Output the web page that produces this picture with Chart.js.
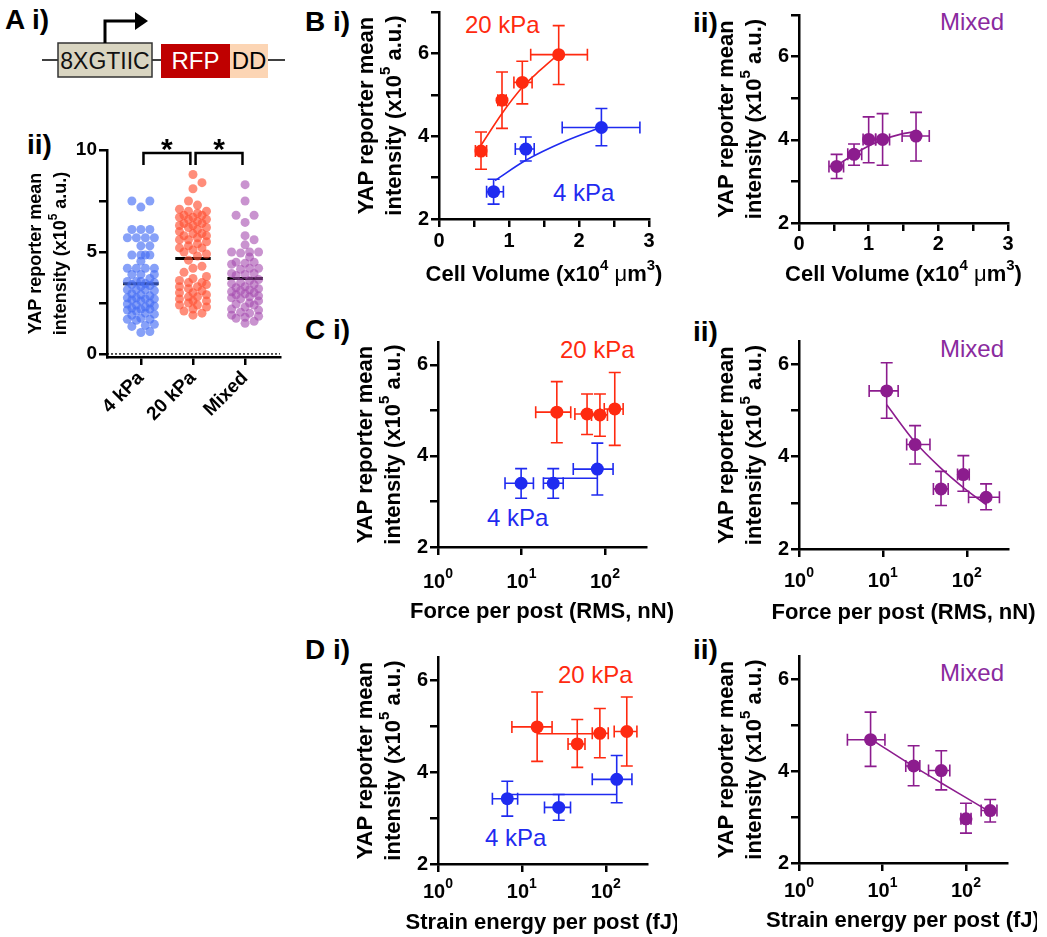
<!DOCTYPE html>
<html>
<head>
<meta charset="utf-8">
<title>YAP reporter intensity vs substrate, volume, force and strain energy</title>
<script src="https://cdn.jsdelivr.net/npm/chart.js@4.4.1/dist/chart.umd.min.js"></script>
<style>
  html, body { margin: 0; padding: 0; background: #fff; }
  body { position: relative; width: 1047px; height: 937px; overflow: hidden;
         font-family: 'Liberation Sans', Arial, Helvetica, sans-serif; }
  canvas { position: absolute; }
  .t { position: absolute; line-height: 1; white-space: nowrap; }
  .panel { font-size: 28px; font-weight: bold; color: #000; }
  .tag { font-size: 24px; }
  .red { color: #ff2a10; }
  .blue { color: #1f2bf0; }
  .purple { color: #8a2a9e; }
</style>
</head>
<body>

<!-- A i) reporter construct -->
<svg width="300" height="95" style="position:absolute;left:0;top:0">
  <line x1="42" y1="60" x2="285" y2="60" stroke="#000" stroke-width="1.5"/>
  <rect x="58" y="43" width="94" height="34" fill="#d9d5c1" stroke="#333" stroke-width="1.5"/>
  <text x="105" y="68.5" font-size="23" text-anchor="middle" fill="#111">8XGTIIC</text>
  <rect x="161" y="44" width="69" height="34" fill="#bf0000"/>
  <text x="195.5" y="69" font-size="24" text-anchor="middle" fill="#fff">RFP</text>
  <rect x="230" y="44" width="38" height="34" fill="#fcd5b4"/>
  <text x="249" y="69" font-size="24" text-anchor="middle" fill="#000">DD</text>
  <polyline points="105,43 105,21 137,21" fill="none" stroke="#000" stroke-width="3"/>
  <polygon points="135,12 148,21 135,30" fill="#000"/>
</svg>

<div class="t panel" style="left:5px;top:6px">A i)</div>
<div class="t panel" style="left:27px;top:131px">ii)</div>
<div class="t panel" style="left:305px;top:8px">B&nbsp;i)</div>
<div class="t panel" style="left:693px;top:9px">ii)</div>
<div class="t panel" style="left:305px;top:316px">C&nbsp;i)</div>
<div class="t panel" style="left:693px;top:318px">ii)</div>
<div class="t panel" style="left:305px;top:636px">D&nbsp;i)</div>
<div class="t panel" style="left:693px;top:636px">ii)</div>

<div class="t tag red" style="left:465px;top:13px">20 kPa</div>
<div class="t tag blue" style="left:553px;top:181px">4 kPa</div>
<div class="t tag purple" style="left:940px;top:10px">Mixed</div>
<div class="t tag red" style="left:560px;top:338px">20 kPa</div>
<div class="t tag blue" style="left:487px;top:506px">4 kPa</div>
<div class="t tag purple" style="left:940px;top:337px">Mixed</div>
<div class="t tag red" style="left:558px;top:663px">20 kPa</div>
<div class="t tag blue" style="left:485px;top:826px">4 kPa</div>
<div class="t tag purple" style="left:940px;top:661px">Mixed</div>

<canvas id="chartA"></canvas>
<canvas id="chartBi"></canvas>
<canvas id="chartBii"></canvas>
<canvas id="chartCi"></canvas>
<canvas id="chartCii"></canvas>
<canvas id="chartDi"></canvas>
<canvas id="chartDii"></canvas>

<script>
// ---------- A ii: per-cell YAP reporter mean intensity (x10^5 a.u.) ----------
const groups = ['4 kPa', '20 kPa', 'Mixed'];
const cells4kPa = [7.5, 7.5, 7.2, 6.1, 6.1, 6.1, 5.7, 5.7, 5.7, 5.7, 5.3, 5.3, 4.85, 4.85, 4.85, 4.85,
  4.55, 4.2, 4.2, 4.2, 4.2, 3.9, 3.9, 3.9, 3.7, 3.55, 3.55, 3.55, 3.5, 3.45, 3.4, 3.35, 3.3, 3.15,
  3.15, 3.15, 3.1, 2.95, 2.9, 2.85, 2.75, 2.75, 2.7, 2.7, 2.65, 2.6, 2.5, 2.45, 2.4, 2.35, 2.3, 2.25,
  2.2, 2.2, 2.15, 2.1, 2.0, 1.95, 1.9, 1.75, 1.7, 1.7, 1.65, 1.45, 1.4, 1.35, 1.1, 1.05];
const cells20kPa = [8.8, 8.4, 8.1, 7.5, 7.3, 7.1, 7.0, 7.0, 6.9, 6.8, 6.8, 6.7, 6.7, 6.6, 6.6, 6.5,
  6.4, 6.4, 6.3, 6.3, 6.2, 6.2, 6.1, 6.0, 5.9, 5.9, 5.8, 5.8, 5.7, 5.6, 5.6, 5.5, 5.4, 5.3, 5.2,
  5.2, 5.1, 5.0, 4.9, 4.8, 4.6, 4.3, 4.2, 4.0, 3.8, 3.7, 3.6, 3.5, 3.5, 3.4, 3.3, 3.3, 3.2, 3.1,
  3.0, 3.0, 2.9, 2.8, 2.8, 2.7, 2.6, 2.6, 2.5, 2.4, 2.4, 2.3, 2.2, 2.1, 2.0, 1.9];
const cellsMixed = [8.3, 7.5, 6.8, 6.8, 6.45, 5.8, 5.6, 5.35, 5.0, 5.0, 5.0, 4.95, 4.75, 4.5, 4.5,
  4.45, 4.4, 4.2, 4.2, 4.15, 3.95, 3.95, 3.9, 3.85, 3.65, 3.6, 3.5, 3.45, 3.4, 3.3, 3.25, 3.2, 3.15,
  3.1, 3.05, 3.0, 2.95, 2.9, 2.85, 2.8, 2.75, 2.7, 2.6, 2.5, 2.45, 2.4, 2.3, 2.2, 2.15, 2.05, 2.0,
  1.9, 1.85, 1.8, 1.75, 1.6, 1.5];
const groupMeans = [3.44, 4.68, 3.70];
const sigPairs = [[1, 2], [2, 3]];

// ---------- B: cell volume (x10^4 um^3) ----------
const vol20 = [0.60, 0.90, 1.19, 1.71];
const vol20Lo = [0.52, 0.84, 1.07, 1.31];
const vol20Hi = [0.68, 0.96, 1.33, 2.12];
const yapVol20 = [3.64, 4.87, 5.30, 5.97];
const yapVol20Lo = [3.20, 4.19, 4.78, 5.25];
const yapVol20Hi = [4.10, 5.55, 5.81, 6.67];
const vol4 = [0.78, 1.24, 2.32];
const vol4Lo = [0.68, 1.09, 1.76];
const vol4Hi = [0.92, 1.36, 2.87];
const yapVol4 = [2.66, 3.69, 4.21];
const yapVol4Lo = [2.36, 3.40, 3.77];
const yapVol4Hi = [2.96, 3.98, 4.67];
const fitVol20X = [0.6, 0.9, 1.2, 1.45, 1.72];
const fitVol20Y = [3.78, 4.55, 5.2, 5.6, 6.0];
const fitVol4X = [0.8, 1.24, 1.8, 2.32];
const fitVol4Y = [2.93, 3.42, 3.88, 4.22];

const volMix = [0.54, 0.79, 1.00, 1.20, 1.68];
const volMixLo = [0.43, 0.70, 0.92, 1.10, 1.48];
const volMixHi = [0.64, 0.90, 1.10, 1.30, 1.87];
const yapVolMix = [3.36, 3.65, 4.01, 4.01, 4.09];
const yapVolMixLo = [3.07, 3.39, 3.45, 3.39, 3.49];
const yapVolMixHi = [3.65, 3.90, 4.55, 4.63, 4.66];
const fitVolMixX = [0.54, 0.8, 1.0, 1.2, 1.45, 1.68];
const fitVolMixY = [3.38, 3.66, 3.85, 4.0, 4.13, 4.2];

// ---------- C: force per post (RMS, nN) ----------
const force20 = [26.5, 61, 87, 131];
const force20Lo = [14.8, 43.6, 69, 98];
const force20Hi = [38.9, 87, 107, 165];
const yapForce20 = [4.96, 4.92, 4.90, 5.03];
const yapForce20Lo = [4.29, 4.47, 4.43, 4.23];
const yapForce20Hi = [5.63, 5.36, 5.36, 5.83];
const force4 = [9.9, 24, 81];
const force4Lo = [6.35, 18.3, 41.7];
const force4Hi = [13.9, 31.6, 125];
const yapForce4 = [3.40, 3.40, 3.71];
const yapForce4Lo = [3.07, 3.07, 3.14];
const yapForce4Hi = [3.72, 3.72, 4.28];
const force4Span = [18.3, 81];
const yapForce4Span = 3.51;

const forceMix = [11.1, 24.2, 49.3, 91, 170];
const forceMixLo = [6.86, 19.2, 40, 77.6, 105];
const forceMixHi = [15.2, 36.4, 60, 107, 245];
const yapForceMix = [5.42, 4.26, 3.30, 3.61, 3.12];
const yapForceMixLo = [4.83, 3.84, 2.94, 3.25, 2.85];
const yapForceMixHi = [6.03, 4.67, 3.68, 4.02, 3.41];
const fitForceMixX = [11.1, 24, 49, 91, 170];
const fitForceMixY = [5.12, 4.32, 3.75, 3.33, 2.96];

// ---------- D: strain energy per post (fJ) ----------
const energy20 = [15.2, 45.7, 85, 178];
const energy20Lo = [7.6, 35.5, 69, 126];
const energy20Hi = [22.9, 56.5, 107, 235];
const yapEnergy20 = [4.98, 4.61, 4.84, 4.88];
const yapEnergy20Lo = [4.23, 4.10, 4.31, 4.13];
const yapEnergy20Hi = [5.74, 5.14, 5.38, 5.63];
const energy20Span = [15.2, 85];
const yapEnergy20Span = 4.83;
const energy4 = [6.7, 27.5, 135];
const energy4Lo = [4.45, 18.6, 69];
const energy4Hi = [8.9, 38, 205];
const yapEnergy4 = [3.42, 3.23, 3.84];
const yapEnergy4Lo = [3.04, 2.95, 3.33];
const yapEnergy4Hi = [3.80, 3.51, 4.36];
const energy4Span = [6.7, 135];
const yapEnergy4Span = 3.51;

const energyMix = [7.2, 23.6, 50.6, 100, 195];
const energyMixLo = [3.8, 19, 35.6, 87, 152];
const energyMixHi = [10.7, 28, 64, 115, 235];
const yapEnergyMix = [4.68, 4.11, 4.01, 2.96, 3.14];
const yapEnergyMixLo = [4.10, 3.68, 3.59, 2.65, 2.89];
const yapEnergyMixHi = [5.28, 4.55, 4.44, 3.30, 3.38];
const fitEnergyMixX = [8.06, 23.6, 50.6, 100, 174];
const fitEnergyMixY = [4.64, 4.10, 3.74, 3.42, 3.16];

// ---------- axes ----------
const yTicksFine = [2, 3, 4, 5, 6, 7];
const yTicksForce = [2, 3, 4, 5, 6];
const volTicks = [0, 0.5, 1, 1.5, 2, 2.5, 3];
const decadeTicks = [1, 10, 100];
const dotTicks = [0, 2.5, 5, 7.5, 10];
const yapTitle = ['YAP reporter mean', 'intensity (x10^{5} a.u.)'];
const volTitle = 'Cell Volume (x10^{4} ~{\u03bc}m^{3})';
const forceTitle = 'Force per post (RMS, nN)';
const energyTitle = 'Strain energy per post (fJ)';

// ---------- styling ----------
const FONT = "'Liberation Sans', Arial, Helvetica, sans-serif";
const RED = '#ff2a10', BLUE = '#1f2bf0', PURPLE = '#8c1c8e';

Chart.defaults.animation = false;
Chart.defaults.font.family = FONT;
Chart.defaults.color = '#000';

function axis(o) {
  return {
    type: o.type || 'linear',
    position: o.position,
    min: o.min, max: o.max,
    afterBuildTicks: s => { s.ticks = o.ticks.map(v => ({ value: v })); },
    afterFit: s => { if (o.position === 'left') s.width = o.size; else s.height = o.size; },
    ticks: {
      display: o.label !== null, autoSkip: false, padding: o.pad, color: '#000',
      maxRotation: o.rot || 0, minRotation: o.rot || 0,
      font: { family: FONT, size: o.fs || 20, weight: 'bold' },
      callback: o.label || undefined
    },
    grid: { display: true, drawOnChartArea: false, drawTicks: true, tickLength: 8, lineWidth: 2.5, color: '#000' },
    border: { display: true, width: 2.5, color: '#000' },
    title: { display: false }
  };
}

const evenLabel = v => (v % 2 === 0 ? String(v) : '');
const intLabel = v => (Number.isInteger(v) ? String(v) : '');

function yYap(ticks, max) {
  return axis({ position: 'left', min: 2, max: max, ticks: ticks, label: evenLabel, pad: 2, size: 86 });
}
function xVolume(size, pad) {
  return axis({ position: 'bottom', min: 0, max: 3, ticks: volTicks, label: intLabel, pad: pad, size: size });
}
function xLog(size) {
  return axis({ type: 'logarithmic', position: 'bottom', min: 1, max: 310, ticks: decadeTicks,
    label: null, pad: 0, size: size });
}

// text with ^{..} superscripts and ~{..} light-weight pieces
function parseRich(str) {
  const parts = [];
  str.split(/(\^\{[^}]*\}|~\{[^}]*\})/).forEach(s => {
    if (!s) return;
    if (s[0] === '^') parts.push({ t: s.slice(2, -1), sup: true });
    else if (s[0] === '~') parts.push({ t: s.slice(2, -1), light: true });
    else parts.push({ t: s });
  });
  return parts;
}
function drawRich(ctx, str, cx, baseY, size) {
  const parts = parseRich(str);
  const fontOf = p => (p.light ? 'normal ' : 'bold ') + (p.sup ? Math.round(size * 0.68) : size) + 'px ' + FONT;
  let total = 0;
  parts.forEach(p => { ctx.font = fontOf(p); total += ctx.measureText(p.t).width; });
  let x = cx - total / 2;
  ctx.textAlign = 'left';
  ctx.textBaseline = 'alphabetic';
  parts.forEach(p => {
    ctx.font = fontOf(p);
    ctx.fillText(p.t, x, baseY - (p.sup ? size * 0.5 : 0));
    x += ctx.measureText(p.t).width;
  });
}

// axis titles and power-of-ten tick labels, drawn with superscripts
const richText = {
  id: 'richText',
  afterDraw(chart, args, opts) {
    const { ctx, chartArea: a } = chart;
    ctx.save();
    ctx.fillStyle = '#000';
    if (opts.x) drawRich(ctx, opts.x, (a.left + a.right) / 2, a.bottom + opts.xBase, opts.size);
    if (opts.y) {
      opts.y.forEach((line, i) => {
        ctx.save();
        ctx.translate(a.left - opts.yBase[i], (a.top + a.bottom) / 2);
        ctx.rotate(-Math.PI / 2);
        drawRich(ctx, line, 0, 0, opts.size);
        ctx.restore();
      });
    }
    if (opts.decades) {
      const sx = chart.scales.x;
      decadeTicks.forEach(v => {
        drawRich(ctx, '10^{' + Math.round(Math.log10(v)) + '}', sx.getPixelForValue(v), a.bottom + opts.tickBase, 20);
      });
    }
    ctx.restore();
  }
};

function points(xs, ys, color, xLo, xHi, yLo, yHi) {
  return {
    data: xs.map((x, i) => ({ x: x, y: ys[i] })),
    backgroundColor: color, borderWidth: 0, pointRadius: 6.5, order: 1,
    barColor: color,
    errorBars: xs.map((x, i) => ({ xLo: xLo[i], xHi: xHi[i], yLo: yLo[i], yHi: yHi[i] }))
  };
}
function fitLine(xs, ys, color) {
  return {
    data: xs.map((x, i) => ({ x: x, y: ys[i] })),
    showLine: true, borderColor: color, borderWidth: 1.6, pointRadius: 0,
    cubicInterpolationMode: 'monotone', order: 2
  };
}
function spanLine(range, y, color) {
  return {
    data: range.map(x => ({ x: x, y: y })),
    showLine: true, borderColor: color, borderWidth: 1.6, pointRadius: 0, order: 3
  };
}

// error bars with caps, drawn behind the markers
const errorBarPlugin = {
  id: 'errorBars',
  beforeDatasetsDraw(chart) {
    const { ctx, scales: { x, y } } = chart;
    const cap = 6;
    ctx.save();
    ctx.lineWidth = 1.6;
    chart.data.datasets.forEach(ds => {
      if (!ds.errorBars) return;
      ctx.strokeStyle = ds.barColor;
      ds.errorBars.forEach((e, i) => {
        const p = ds.data[i];
        const px = x.getPixelForValue(p.x), py = y.getPixelForValue(p.y);
        const x0 = x.getPixelForValue(e.xLo), x1 = x.getPixelForValue(e.xHi);
        const y0 = y.getPixelForValue(e.yLo), y1 = y.getPixelForValue(e.yHi);
        ctx.beginPath();
        ctx.moveTo(x0, py); ctx.lineTo(x1, py);
        ctx.moveTo(x0, py - cap); ctx.lineTo(x0, py + cap);
        ctx.moveTo(x1, py - cap); ctx.lineTo(x1, py + cap);
        ctx.moveTo(px, y0); ctx.lineTo(px, y1);
        ctx.moveTo(px - cap, y0); ctx.lineTo(px + cap, y0);
        ctx.moveTo(px - cap, y1); ctx.lineTo(px + cap, y1);
        ctx.stroke();
      });
    });
    ctx.restore();
  }
};

// place a canvas so that its chart area lands on the wanted page box
function makePanel(id, area, yW, xH, datasets, scales, text, plugins) {
  const pad = { left: 4, top: 30, right: 30, bottom: 4 };
  const el = document.getElementById(id);
  const w = pad.left + yW + (area.r - area.l) + pad.right;
  const h = pad.top + (area.b - area.t) + xH + pad.bottom;
  el.width = w; el.height = h;
  el.style.width = w + 'px'; el.style.height = h + 'px';
  el.style.left = (area.l - yW - pad.left) + 'px';
  el.style.top = (area.t - pad.top) + 'px';
  return new Chart(el, {
    type: 'scatter',
    data: { datasets: datasets },
    options: {
      responsive: false, animation: false, devicePixelRatio: 1,
      layout: { padding: pad },
      plugins: { legend: { display: false }, tooltip: { enabled: false }, richText: text },
      scales: scales
    },
    plugins: (plugins || [errorBarPlugin]).concat([richText])
  });
}

// ---------- A ii: scatter dot plot ----------
const dotPxX = 52.1, dotPxY = 20.4, dotDiam = 9;
function swarm(values, cat) {
  const order = values.map((v, i) => i).sort((a, b) => values[a] - values[b]);
  const slots = [0, 0.5, -0.5, 1, -1, 1.5, -1.5];
  const placed = [], out = [];
  order.forEach(i => {
    const py = values[i] * dotPxY;
    let best = 0, bestGap = -1;
    for (const s of slots) {
      const px = s * dotDiam;
      let gap = Infinity;
      placed.forEach(p => { gap = Math.min(gap, Math.hypot(p.x - px, p.y - py)); });
      if (gap >= dotDiam * 0.95) { best = px; break; }
      if (gap > bestGap) { bestGap = gap; best = px; }
    }
    placed.push({ x: best, y: py });
    out.push({ x: cat + best / dotPxX, y: values[i] });
  });
  return out;
}

const dotExtras = {
  id: 'dotExtras',
  beforeDatasetsDraw(chart) {
    const { ctx, scales: { x, y } } = chart;
    ctx.save();
    ctx.strokeStyle = '#000';
    ctx.lineWidth = 3;
    groupMeans.forEach((m, i) => {
      ctx.beginPath();
      ctx.moveTo(x.getPixelForValue(i + 1 - 0.34), y.getPixelForValue(m));
      ctx.lineTo(x.getPixelForValue(i + 1 + 0.34), y.getPixelForValue(m));
      ctx.stroke();
    });
    ctx.restore();
  },
  afterDatasetsDraw(chart) {
    const { ctx, scales: { x, y }, chartArea } = chart;
    ctx.save();
    // dotted zero line
    ctx.strokeStyle = '#000'; ctx.lineWidth = 1.3; ctx.setLineDash([2, 2]);
    ctx.beginPath();
    ctx.moveTo(chartArea.left, y.getPixelForValue(0));
    ctx.lineTo(chartArea.right, y.getPixelForValue(0));
    ctx.stroke();
    ctx.setLineDash([]);
    // significance brackets
    ctx.lineWidth = 2.5;
    ctx.font = 'bold 30px ' + FONT;
    ctx.textAlign = 'center'; ctx.textBaseline = 'alphabetic';
    ctx.fillStyle = '#000';
    sigPairs.forEach(([a, b]) => {
      const xa = x.getPixelForValue(a + 0.05), xb = x.getPixelForValue(b - 0.05);
      const top = y.getPixelForValue(9.85), leg = y.getPixelForValue(9.27);
      ctx.beginPath();
      ctx.moveTo(xa, leg); ctx.lineTo(xa, top); ctx.lineTo(xb, top); ctx.lineTo(xb, leg);
      ctx.stroke();
      ctx.fillText('*', (xa + xb) / 2, y.getPixelForValue(9.56));
    });
    ctx.restore();
  }
};

makePanel('chartA', { l: 107, t: 150, r: 280, b: 357 }, 83, 70, [
  { data: swarm(cells4kPa, 1), backgroundColor: 'rgba(70,110,245,0.65)', borderWidth: 0, pointRadius: 4.5 },
  { data: swarm(cells20kPa, 2), backgroundColor: 'rgba(255,80,50,0.65)', borderWidth: 0, pointRadius: 4.5 },
  { data: swarm(cellsMixed, 3), backgroundColor: 'rgba(165,75,175,0.6)', borderWidth: 0, pointRadius: 4.5 }
], {
  x: axis({ position: 'bottom', min: 0.35, max: 3.67, ticks: [1, 2, 3], label: v => groups[v - 1],
    pad: 2, size: 70, rot: 45, fs: 19 }),
  y: axis({ position: 'left', min: -0.15, max: 10, ticks: dotTicks,
    label: v => (v % 5 === 0 ? String(v) : ''), pad: 2, size: 83, fs: 19 })
}, { y: yapTitle, yBase: [66, 41], size: 18 }, [dotExtras]);

// ---------- B i / B ii ----------
makePanel('chartBi', { l: 439, t: 12, r: 649, b: 219 }, 86, 69, [
  fitLine(fitVol20X, fitVol20Y, RED),
  fitLine(fitVol4X, fitVol4Y, BLUE),
  points(vol20, yapVol20, RED, vol20Lo, vol20Hi, yapVol20Lo, yapVol20Hi),
  points(vol4, yapVol4, BLUE, vol4Lo, vol4Hi, yapVol4Lo, yapVol4Hi)
], { x: xVolume(69, 2), y: yYap(yTicksFine, 7) },
{ x: volTitle, xBase: 62, y: yapTitle, yBase: [66, 38], size: 22 });

makePanel('chartBii', { l: 799, t: 15, r: 1008, b: 223 }, 86, 65, [
  fitLine(fitVolMixX, fitVolMixY, PURPLE),
  points(volMix, yapVolMix, PURPLE, volMixLo, volMixHi, yapVolMixLo, yapVolMixHi)
], { x: xVolume(65, 1), y: yYap(yTicksFine, 7) },
{ x: volTitle, xBase: 58, y: yapTitle, yBase: [66, 38], size: 22 });

// ---------- C i / C ii ----------
makePanel('chartCi', { l: 438, t: 342, r: 646, b: 547 }, 86, 78, [
  spanLine(force4Span, yapForce4Span, BLUE),
  points(force20, yapForce20, RED, force20Lo, force20Hi, yapForce20Lo, yapForce20Hi),
  points(force4, yapForce4, BLUE, force4Lo, force4Hi, yapForce4Lo, yapForce4Hi)
], { x: xLog(78), y: yYap(yTicksForce, 6.5) },
{ x: forceTitle, xBase: 71, y: yapTitle, yBase: [66, 38], size: 22, decades: true, tickBase: 41 });

makePanel('chartCii', { l: 799, t: 341, r: 1008, b: 549 }, 86, 77, [
  fitLine(fitForceMixX, fitForceMixY, PURPLE),
  points(forceMix, yapForceMix, PURPLE, forceMixLo, forceMixHi, yapForceMixLo, yapForceMixHi)
], { x: xLog(77), y: yYap(yTicksForce, 6.5) },
{ x: forceTitle, xBase: 70, y: yapTitle, yBase: [66, 38], size: 22, decades: true, tickBase: 38 });

// ---------- D i / D ii ----------
makePanel('chartDi', { l: 438, t: 657, r: 647, b: 864 }, 86, 72, [
  spanLine(energy20Span, yapEnergy20Span, RED),
  spanLine(energy4Span, yapEnergy4Span, BLUE),
  points(energy20, yapEnergy20, RED, energy20Lo, energy20Hi, yapEnergy20Lo, yapEnergy20Hi),
  points(energy4, yapEnergy4, BLUE, energy4Lo, energy4Hi, yapEnergy4Lo, yapEnergy4Hi)
], { x: xLog(72), y: yYap(yTicksForce, 6.5) },
{ x: energyTitle, xBase: 65, y: yapTitle, yBase: [66, 38], size: 22, decades: true, tickBase: 34 });

makePanel('chartDii', { l: 799, t: 656, r: 1007, b: 863 }, 86, 71, [
  fitLine(fitEnergyMixX, fitEnergyMixY, PURPLE),
  points(energyMix, yapEnergyMix, PURPLE, energyMixLo, energyMixHi, yapEnergyMixLo, yapEnergyMixHi)
], { x: xLog(71), y: yYap(yTicksForce, 6.5) },
{ x: energyTitle, xBase: 64, y: yapTitle, yBase: [66, 38], size: 22, decades: true, tickBase: 34 });
</script>
</body>
</html>
